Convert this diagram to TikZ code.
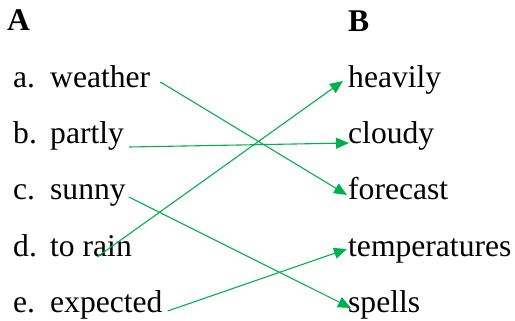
\documentclass[tikz,border=0pt]{standalone}
\usepackage{fontspec}
\setmainfont{Liberation Serif}
\usetikzlibrary{arrows.meta}
\definecolor{linkgreen}{RGB}{0,176,80}

\begin{document}
\begin{tikzpicture}
  [ x=1pt, y=-1pt,
    word/.style={anchor=base west, inner sep=0pt, font=\fontsize{31.6}{38}\selectfont},
    head/.style={word, font=\fontsize{31.6}{38}\selectfont\bfseries},
    link/.style={-{Triangle[length=13pt, width=11pt]}, line width=1.1pt, linkgreen}
  ]
  \useasboundingbox (0,0) rectangle (515,321);

  \node[head] (colA) at (7,31) {A};
  \node[head] (colB) at (348,32) {B};

  \node[word] (la) at (13,88) {a.};
  \node[word] (lb) at (13,144) {b.};
  \node[word] (lc) at (13,200) {c.};
  \node[word] (ld) at (13,256) {d.};
  \node[word] (le) at (13,312) {e.};

  \node[word] (weather) at (50,88) {weather};
  \node[word] (partly) at (50,144) {partly};
  \node[word] (sunny) at (50,200) {sunny};
  \node[word] (torain) at (50,256) {to rain};
  \node[word] (expected) at (50,312) {expected};

  \node[word] (heavily) at (348,88) {heavily};
  \node[word] (cloudy) at (348,144) {cloudy};
  \node[word] (forecast) at (348,200) {forecast};
  \node[word] (temps) at (348,256) {temperatures};
  \node[word] (spells) at (348,312) {spells};

  \draw [link] ([shift={(10,-6)}]weather.base east) -- ([shift={(-1,-5)}]forecast.base west);
  \draw [link] ([shift={(5,3)}]partly.base east) -- ([shift={(1,-1)}]cloudy.base west);
  \draw [link] ([shift={(3,-3)}]sunny.base east) -- ([shift={(3,-4)}]spells.base west);
  \draw [link] ([shift={(-35,1)}]torain.base east) -- ([shift={(-5,-7)}]heavily.base west);
  \draw [link] ([shift={(5,-1)}]expected.base east) -- ([shift={(-1,-7)}]temps.base west);
\end{tikzpicture}
\end{document}
